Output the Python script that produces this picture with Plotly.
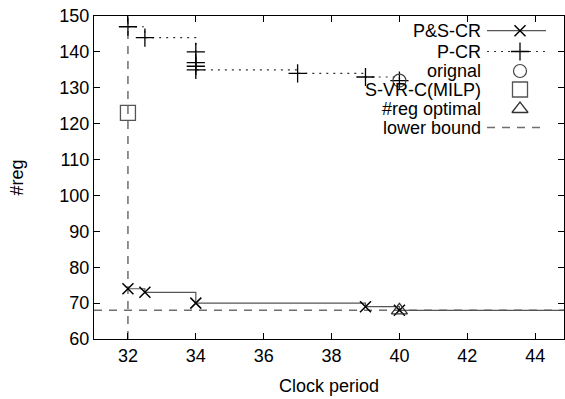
import plotly.graph_objects as go

# ---- data ----
ps_cr_x = [32, 32.5, 34, 39, 40, 46]
ps_cr_y = [74, 73, 70, 69, 68, 68]

p_cr_x = [32, 32.5, 34, 34, 34, 34, 37, 39, 40]
p_cr_y = [147, 144, 140, 137, 136, 135, 134, 133, 132]

orig_x = [40]
orig_y = [132]

svrc_x = [32]
svrc_y = [123]

opt_x = [40]
opt_y = [68]

lb_x = [32, 32, None, 31, 46]
lb_y = [60, 150, None, 68, 68]

legend_labels = ["P&S-CR", "P-CR", "orignal", "S-VR-C(MILP)", "#reg optimal", "lower bound"]
x_ticks = [32, 34, 36, 38, 40, 42, 44]
y_ticks = [60, 70, 80, 90, 100, 110, 120, 130, 140, 150]

FONT = "Liberation Sans, Arial, sans-serif"
FS = 18
W, H = 565, 399
ML, MR, MT, MB = 94, 1, 16, 60
PW, PH = W - ML - MR, H - MT - MB

ST_PS = dict(line=dict(color="#555555", width=1.2),
             marker=dict(symbol="x-thin-open", size=11, color="black",
                         line=dict(color="black", width=1.5)))
ST_P = dict(line=dict(color="#333333", width=1.2, dash="2px,5px"),
            marker=dict(symbol="cross-thin-open", size=13, color="black",
                        line=dict(color="black", width=1.3)))
ST_O = dict(marker=dict(symbol="circle-open", size=13, color="#444444",
                        line=dict(color="#444444", width=1.2)))
ST_S = dict(marker=dict(symbol="square-open", size=15, color="#555555",
                        line=dict(color="#555555", width=1.3)))
ST_T = dict(marker=dict(symbol="triangle-up-open", size=14, color="#333333",
                        line=dict(color="#333333", width=1.3)))
ST_LB = dict(line=dict(color="#6e6e6e", width=1.5, dash="8px,7px"))

fig = go.Figure()

fig.add_trace(go.Scatter(x=lb_x, y=lb_y, mode="lines", line=ST_LB["line"],
                         showlegend=False, hoverinfo="skip"))
fig.add_trace(go.Scatter(x=p_cr_x, y=p_cr_y, mode="lines+markers", line_shape="hv",
                         line=ST_P["line"], marker=ST_P["marker"], showlegend=False))
fig.add_trace(go.Scatter(x=ps_cr_x, y=ps_cr_y, mode="lines+markers", line_shape="hv",
                         line=ST_PS["line"], marker=ST_PS["marker"], showlegend=False))
fig.add_trace(go.Scatter(x=orig_x, y=orig_y, mode="markers", marker=ST_O["marker"],
                         showlegend=False))
fig.add_trace(go.Scatter(x=svrc_x, y=svrc_y, mode="markers", marker=ST_S["marker"],
                         showlegend=False))
fig.add_trace(go.Scatter(x=opt_x, y=opt_y, mode="markers", marker=ST_T["marker"],
                         showlegend=False))

# ---- manual legend (gnuplot style: text then sample on the right) in pixel axes ----
row_y = [14.7, 35.5, 55, 73.5, 93, 111.5]
text_x = 389
s0, s1, sm = 393, 452, 426
samples = [ST_PS, ST_P, ST_O, ST_S, ST_T, ST_LB]
for lab, yy, s in zip(legend_labels, row_y, samples):
    if "line" in s:
        fig.add_trace(go.Scatter(x=[s0, s1], y=[yy, yy], mode="lines", line=s["line"],
                                 xaxis="x2", yaxis="y2", showlegend=False, hoverinfo="skip"))
    if "marker" in s:
        fig.add_trace(go.Scatter(x=[sm], y=[yy], mode="markers", marker=s["marker"],
                                 xaxis="x2", yaxis="y2", showlegend=False, hoverinfo="skip"))
    fig.add_annotation(x=text_x, y=yy, xref="x2", yref="y2", text=lab, showarrow=False,
                       xanchor="right", yanchor="middle",
                       font=dict(family=FONT, size=FS, color="black"))

axis_common = dict(showgrid=False, zeroline=False, showline=True, linecolor="black",
                   linewidth=1.2, mirror="ticks", ticks="inside", ticklen=6,
                   tickcolor="black", automargin=False, ticklabeloverflow="allow",
                   tickfont=dict(family=FONT, size=FS, color="black"))

fig.update_layout(
    template="none",
    width=W, height=H,
    margin=dict(l=ML, r=MR, t=MT, b=MB, autoexpand=False),
    paper_bgcolor="white", plot_bgcolor="white",
    xaxis=dict(range=[31, 44.85], tickvals=x_ticks, ticktext=[str(v) for v in x_ticks],
               title=dict(text="Clock period", font=dict(family=FONT, size=FS, color="black"), standoff=14),
               **axis_common),
    yaxis=dict(range=[60, 150], tickvals=y_ticks, ticktext=[str(v) for v in y_ticks],
               title=dict(text="#reg", font=dict(family=FONT, size=FS, color="black"), standoff=30),
               **axis_common),
    xaxis2=dict(overlaying="x", range=[0, PW], visible=False, fixedrange=True),
    yaxis2=dict(overlaying="y", range=[PH, 0], visible=False, fixedrange=True),
    showlegend=False,
    hovermode=False,
)

fig.write_html("out.html",
               config={"displayModeBar": False, "staticPlot": True},
               post_script="document.body.style.margin='0';document.body.style.overflow='hidden';")
